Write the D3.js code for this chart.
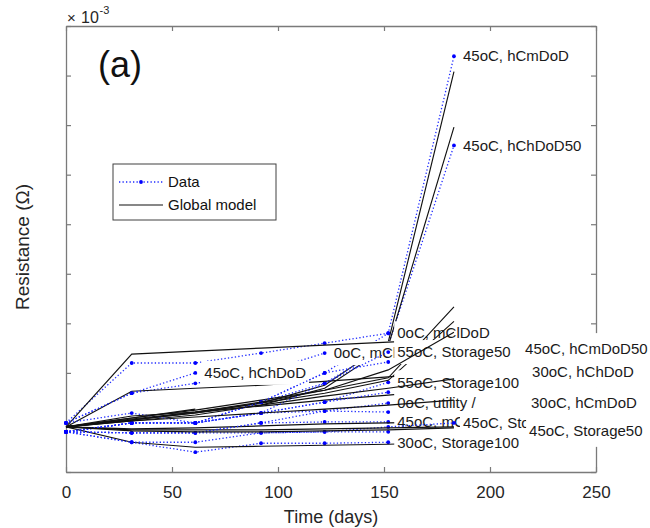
<!DOCTYPE html>
<html><head><meta charset="utf-8">
<script src="https://cdn.jsdelivr.net/npm/d3@7"></script>
<style>
body{margin:0;background:#fff;}
svg{display:block;font-family:Arial,"Liberation Sans",sans-serif;}
</style>
</head><body>
<svg id="chart" width="650" height="528"></svg>
<script>
// ---- data (resistance in units of 1e-3 ohm) ----
const dataDays = [0, 31, 61, 92, 122, 152, 183];
const seriesNames = [
  "45oC, hCmDoD", "45oC, hChDoD50", "0oC, mChDoD", "0oC, mClDoD", "45oC, hChDoD",
  "30oC, Storage100", "45oC, mCmDoD", "45oC, Storage100", "0oC, utility /",
  "55oC, Storage100", "55oC, Storage50", "45oC, hCmDoD50", "30oC, hChDoD",
  "30oC, hCmDoD", "45oC, Storage50"
];
const dataValues = [
  [1.081, 1.099, 1.099, 1.141, 1.200, 1.280, 1.839],
  [1.081, 1.099, 1.099, 1.141, 1.179, 1.256, 1.659],
  [1.099, 1.159, 1.179, 1.200, 1.240],
  [1.099, 1.220, 1.220, 1.240, 1.260, 1.280],
  [1.099, 1.159, 1.200],
  [1.081, 1.060, 1.040, 1.058, 1.058, 1.060],
  [1.081, 1.079, 1.079, 1.099, 1.101, 1.101],
  [1.081, 1.079, 1.079, 1.079, 1.081, 1.091, 1.099],
  [1.099, 1.119, 1.099, 1.119, 1.123, 1.139],
  [1.081, 1.099, 1.099, 1.119, 1.141, 1.181],
  [1.081, 1.099, 1.099, 1.119, 1.179, 1.242],
  [1.081, 1.099, 1.099, 1.141, 1.200, 1.222],
  [1.081, 1.099, 1.099, 1.119, 1.141, 1.161],
  [1.081, 1.079, 1.079, 1.099, 1.123, 1.121],
  [1.081, 1.060, 1.060, 1.079, 1.081, 1.081]
];
const modelValues = [
  [1.091, 1.105, 1.119, 1.139, 1.175, 1.262, 1.808],
  [1.091, 1.103, 1.115, 1.135, 1.169, 1.254, 1.696],
  [1.091, 1.163, 1.169, 1.175, 1.183, 1.192, 1.202],
  [1.091, 1.238, 1.244, 1.250, 1.256, 1.262, 1.268],
  [1.091, 1.109, 1.127],
  [1.091, 1.060, 1.050, 1.052, 1.054, 1.056, 1.060],
  [1.091, 1.087, 1.089, 1.093, 1.097, 1.099, 1.101],
  [1.091, 1.085, 1.085, 1.085, 1.087, 1.089, 1.091],
  [1.091, 1.113, 1.121, 1.133, 1.145, 1.155, 1.167],
  [1.091, 1.107, 1.121, 1.139, 1.159, 1.185, 1.304],
  [1.091, 1.109, 1.125, 1.145, 1.165, 1.190, 1.333],
  [1.091, 1.105, 1.121, 1.141, 1.165, 1.206, 1.282],
  [1.091, 1.105, 1.119, 1.135, 1.153, 1.169, 1.188],
  [1.091, 1.103, 1.111, 1.119, 1.127, 1.135, 1.145],
  [1.091, 1.083, 1.081, 1.081, 1.083, 1.085, 1.089]
];
// label anchors [day, value]; null = at last data point
const labelAnchors = [null, null, null, null, null, null, null, null, null, null, null,
  [212.3, 1.248], [215.6, 1.202], [215.1, 1.139], [214.2, 1.083]];
const xTicks = [0, 50, 100, 150, 200, 250];
const yTicks = [1.0, 1.1, 1.2, 1.3, 1.4, 1.5, 1.6, 1.7, 1.8, 1.9];

// ---- layout ----
const L = 66, R = 596, T = 26, B = 472;
const svg = d3.select("#chart");
const x = d3.scaleLinear().domain([0, 250]).range([L, R]);
const y = d3.scaleLinear().domain([1.0, 1.9]).range([B, T]);
const frameColor = "#7a7a7a", textColor = "#262626";

function styleAxis(g) {
  g.select(".domain").attr("stroke", frameColor).attr("stroke-width", 1.3);
  g.selectAll(".tick line").attr("stroke", frameColor).attr("stroke-width", 1.2);
  g.selectAll(".tick text").attr("fill", textColor).attr("font-size", 17)
    .attr("font-family", "Arial, 'Liberation Sans', sans-serif");
}
svg.append("g").attr("transform", `translate(0,${B})`)
  .call(d3.axisBottom(x).tickValues(xTicks).tickSizeInner(-5).tickSizeOuter(0).tickPadding(14))
  .call(styleAxis);
svg.append("g").attr("transform", `translate(0,${T})`)
  .call(d3.axisTop(x).tickValues(xTicks).tickSizeInner(-5).tickSizeOuter(0).tickFormat(() => ""))
  .call(styleAxis);
svg.append("g").attr("transform", `translate(${L},0)`)
  .call(d3.axisLeft(y).tickValues(yTicks).tickSizeInner(-5).tickSizeOuter(0).tickFormat(() => ""))
  .call(styleAxis);
svg.append("g").attr("transform", `translate(${R},0)`)
  .call(d3.axisRight(y).tickValues(yTicks).tickSizeInner(-5).tickSizeOuter(0).tickFormat(() => ""))
  .call(styleAxis);

// axis labels
svg.append("text").attr("x", 331).attr("y", 517).attr("dy", "0.35em")
  .attr("text-anchor", "middle").attr("font-size", 18).attr("fill", textColor).text("Time (days)");
svg.append("text").attr("transform", "translate(22,247) rotate(-90)").attr("dy", "0.35em")
  .attr("text-anchor", "middle").attr("font-size", 19).attr("fill", textColor).text("Resistance (Ω)");
svg.append("text").attr("x", 67).attr("y", 23).attr("font-size", 15).attr("fill", textColor).text("×");
svg.append("text").attr("x", 81).attr("y", 23).attr("font-size", 16).attr("fill", textColor).text("10");
svg.append("text").attr("x", 99.5).attr("y", 14).attr("font-size", 11).attr("fill", textColor).text("-3");
svg.append("text").attr("x", 98).attr("y", 77).attr("font-size", 36).attr("fill", "#111").text("(a)");

// ---- series ----
const line = d3.line().x(d => x(d[0])).y(d => y(d[1]));
const plot = svg.append("g");
seriesNames.forEach((name, i) => {
  const dpts = dataValues[i].map((v, j) => [dataDays[j], v]);
  const mpts = modelValues[i].map((v, j) => [dataDays[j], v]);
  const g = plot.append("g");
  g.append("path").attr("d", line(dpts)).attr("fill", "none")
    .attr("stroke", "#1f2bff").attr("stroke-width", 1.3).attr("stroke-dasharray", "1.3,2.2");
  g.selectAll("circle").data(dpts).join("circle")
    .attr("cx", d => x(d[0])).attr("cy", d => y(d[1])).attr("r", 1.9).attr("fill", "#0000ff");
  g.append("path").attr("d", line(mpts)).attr("fill", "none")
    .attr("stroke", "#111").attr("stroke-width", 1.15);
  const anchor = labelAnchors[i] || dpts[dpts.length - 1];
  const tx = x(anchor[0]) + 9, ty = y(anchor[1]);
  const half = labelAnchors[i] ? 16 : 12;
  const lg = g.append("g");
  const rect = lg.append("rect").attr("fill", "#fff");
  const t = lg.append("text").attr("x", tx).attr("y", ty).attr("dy", "0.35em")
    .attr("font-size", 15).attr("fill", "#1a1a1a").text(name);
  const w = t.node().getComputedTextLength();
  rect.attr("x", tx - 3).attr("y", ty - half).attr("width", w + 6).attr("height", half * 2);
});

// ---- legend ----
const leg = svg.append("g");
leg.append("rect").attr("x", 113).attr("y", 164).attr("width", 163).attr("height", 56)
  .attr("fill", "#fff").attr("stroke", "#404040").attr("stroke-width", 1);
leg.append("line").attr("x1", 119).attr("x2", 163).attr("y1", 182).attr("y2", 182)
  .attr("stroke", "#1f2bff").attr("stroke-width", 1.3).attr("stroke-dasharray", "1.3,2.2");
leg.append("circle").attr("cx", 141).attr("cy", 182).attr("r", 1.9).attr("fill", "#0000ff");
leg.append("text").attr("x", 168).attr("y", 182).attr("dy", "0.35em").attr("font-size", 15)
  .attr("fill", "#111").text("Data");
leg.append("line").attr("x1", 119).attr("x2", 163).attr("y1", 205).attr("y2", 205)
  .attr("stroke", "#111").attr("stroke-width", 1.15);
leg.append("text").attr("x", 168).attr("y", 205).attr("dy", "0.35em").attr("font-size", 15)
  .attr("fill", "#111").text("Global model");
</script>
</body></html>
